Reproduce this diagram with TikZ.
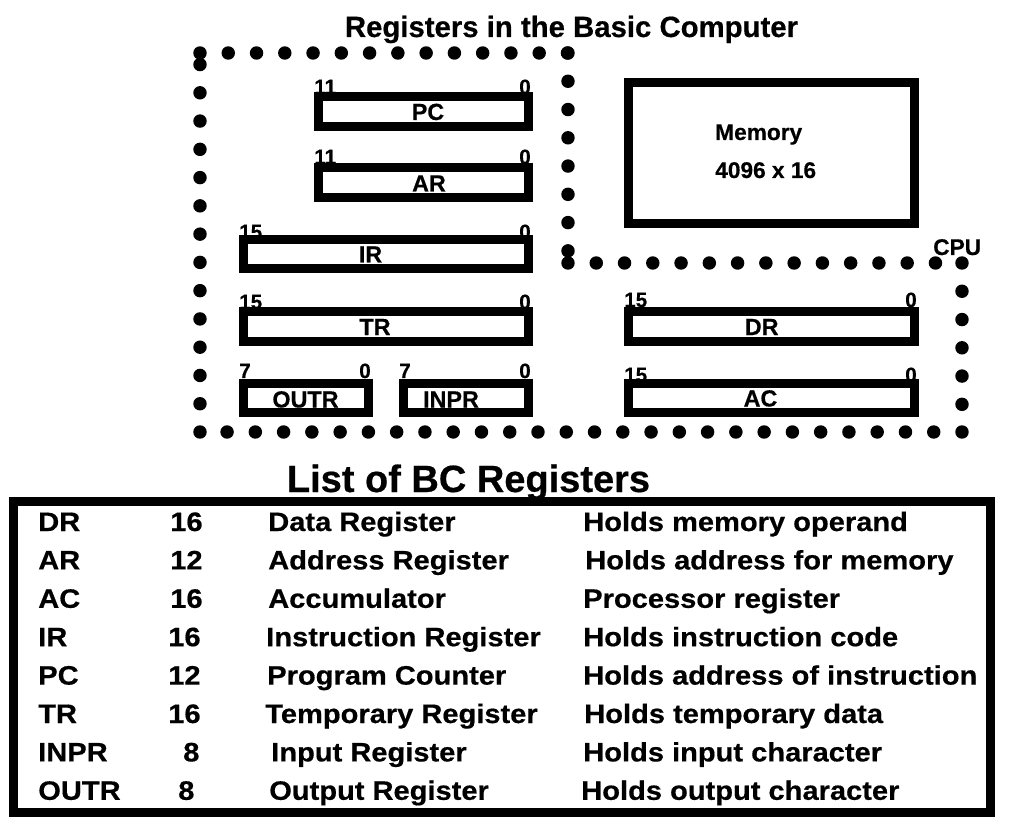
\documentclass[tikz,border=0pt]{standalone}
\usepackage{fontspec}
\setmainfont{Liberation Sans}[BoldFeatures={FakeBold=0.5}]
\newfontfamily\tabfont{Liberation Sans}[FakeStretch=1.09,BoldFeatures={FakeBold=0.5}]
\begin{document}
\begin{tikzpicture}[x=0.75pt,y=-0.75pt,
  regbox/.style={draw, line width=6.75pt, inner sep=0pt, outer sep=0pt},
  reglbl/.style={font=\fontsize{17.5}{20}\selectfont\bfseries, anchor=base, inner sep=0pt},
  bitlbl/.style={font=\fontsize{15.5}{17}\selectfont\bfseries, inner sep=0pt},
  cpudots/.style={line width=10.1pt, line cap=round, dash pattern=on 0pt off 21.2pt},
  tabtxt/.style={font=\tabfont\fontsize{20}{24}\selectfont\bfseries, anchor=base west, inner sep=0pt},
  plain/.style={inner sep=0pt}
]
\useasboundingbox (0,0) rectangle (1022,838);

% title
\node[plain, anchor=base, font=\fontsize{22}{26}\selectfont\bfseries] (title) at (571.5,37) {Registers in the Basic Computer};

% CPU dotted boundary
\coordinate (d1) at (200,53);
\coordinate (d2) at (568,53);
\coordinate (d3) at (568,263);
\coordinate (d4) at (962,263);
\coordinate (d5) at (962,432);
\coordinate (d6) at (200,432);
\draw[cpudots] (d1) -- (d2);
\draw[cpudots] (d2) -- (d3);
\draw[cpudots] (d3) -- (d4);
\draw[cpudots] (d4) -- (d5);
\draw[cpudots] (d5) -- (d6);
\draw[cpudots] (d6) -- (d1);
\node[plain, anchor=base west, font=\fontsize{17}{20}\selectfont\bfseries] (cpu) at (933,255) {CPU};

% bit numbers (drawn before boxes)
\node[bitlbl, anchor=base west] (pc11) at (314,94) {11};
\node[bitlbl, anchor=base east] (pc0) at (531,94) {0};
\node[bitlbl, anchor=base west] (ar11) at (314,164) {11};
\node[bitlbl, anchor=base east] (ar0) at (531,164) {0};
\node[bitlbl, anchor=base west] (ir15) at (239,239) {15};
\node[bitlbl, anchor=base east] (ir0) at (531,239) {0};
\node[bitlbl, anchor=base west] (tr15) at (239,309) {15};
\node[bitlbl, anchor=base east] (tr0) at (531,309) {0};
\node[bitlbl, anchor=base west] (outr7) at (239,378) {7};
\node[bitlbl, anchor=base east] (outr0) at (371,378) {0};
\node[bitlbl, anchor=base west] (inpr7) at (399,378) {7};
\node[bitlbl, anchor=base east] (inpr0) at (531,378) {0};
\node[bitlbl, anchor=base west] (dr15) at (624,307) {15};
\node[bitlbl, anchor=base east] (dr0) at (917,307) {0};
\node[bitlbl, anchor=base west] (ac15) at (624,382) {15};
\node[bitlbl, anchor=base east] (ac0) at (917,382) {0};

% register boxes
\node[regbox, minimum width=210*0.75pt, minimum height=30*0.75pt] (pc) at (423.5,111.5) {};
\node[regbox, minimum width=210*0.75pt, minimum height=30*0.75pt] (ar) at (423.5,182.5) {};
\node[regbox, minimum width=285*0.75pt, minimum height=29*0.75pt] (ir) at (386,254) {};
\node[regbox, minimum width=285*0.75pt, minimum height=30*0.75pt] (tr) at (386,326.5) {};
\node[regbox, minimum width=125*0.75pt, minimum height=29*0.75pt] (outr) at (306,398) {};
\node[regbox, minimum width=125*0.75pt, minimum height=29*0.75pt] (inpr) at (466,398) {};
\node[regbox, minimum width=286*0.75pt, minimum height=30*0.75pt] (dr) at (771.5,326.5) {};
\node[regbox, minimum width=286*0.75pt, minimum height=29*0.75pt] (ac) at (771.5,398) {};
\node[regbox, minimum width=286*0.75pt, minimum height=141*0.75pt] (mem) at (771.5,153) {};

% register labels
\node[reglbl] (pcl) at (428,120) {PC};
\node[reglbl] (arl) at (429,191.5) {AR};
\node[reglbl] (irl) at (370.5,262.5) {IR};
\node[reglbl] (trl) at (375,335) {TR};
\node[reglbl] (outrl) at (305.5,407.5) {OUTR};
\node[reglbl] (inprl) at (451,407.5) {INPR};
\node[reglbl] (drl) at (761.7,335) {DR};
\node[reglbl] (acl) at (760.5,406.5) {AC};
\node[plain, anchor=base west, font=\fontsize{17}{20}\selectfont\bfseries] (meml1) at (715,140) {Memory};
\node[plain, anchor=base west, font=\fontsize{17}{20}\selectfont\bfseries] (meml2) at (715,178) {4096 x 16};

% list
\node[regbox, minimum width=977*0.75pt, minimum height=311*0.75pt] (tab) at (502,657) {};
\node[plain, anchor=base, font=\fontsize{28.5}{32}\selectfont\bfseries] (listtitle) at (468.5,492) {List of BC Registers};

\foreach \n/\nx/\b/\bx/\d/\dx/\h/\hx [count=\i] in {
  DR/38/16/170/Data Register/268/Holds memory operand/583,
  AR/38/12/170/Address Register/268/Holds address for memory/585,
  AC/38/16/170/Accumulator/268/Processor register/583,
  IR/38/16/168/Instruction Register/266/Holds instruction code/583,
  PC/38/12/168/Program Counter/267/Holds address of instruction/583,
  TR/38/16/168/Temporary Register/265/Holds temporary data/584,
  INPR/38/8/183/Input Register/271/Holds input character/583,
  OUTR/38/8/178/Output Register/269/Holds output character/581}
{
  \node[tabtxt] (rn\i) at (\nx,{531+38.4*(\i-1)}) {\n};
  \node[tabtxt] (rb\i) at (\bx,{531+38.4*(\i-1)}) {\b};
  \node[tabtxt] (rd\i) at (\dx,{531+38.4*(\i-1)}) {\d};
  \node[tabtxt] (rh\i) at (\hx,{531+38.4*(\i-1)}) {\h};
}
\end{tikzpicture}
\end{document}
